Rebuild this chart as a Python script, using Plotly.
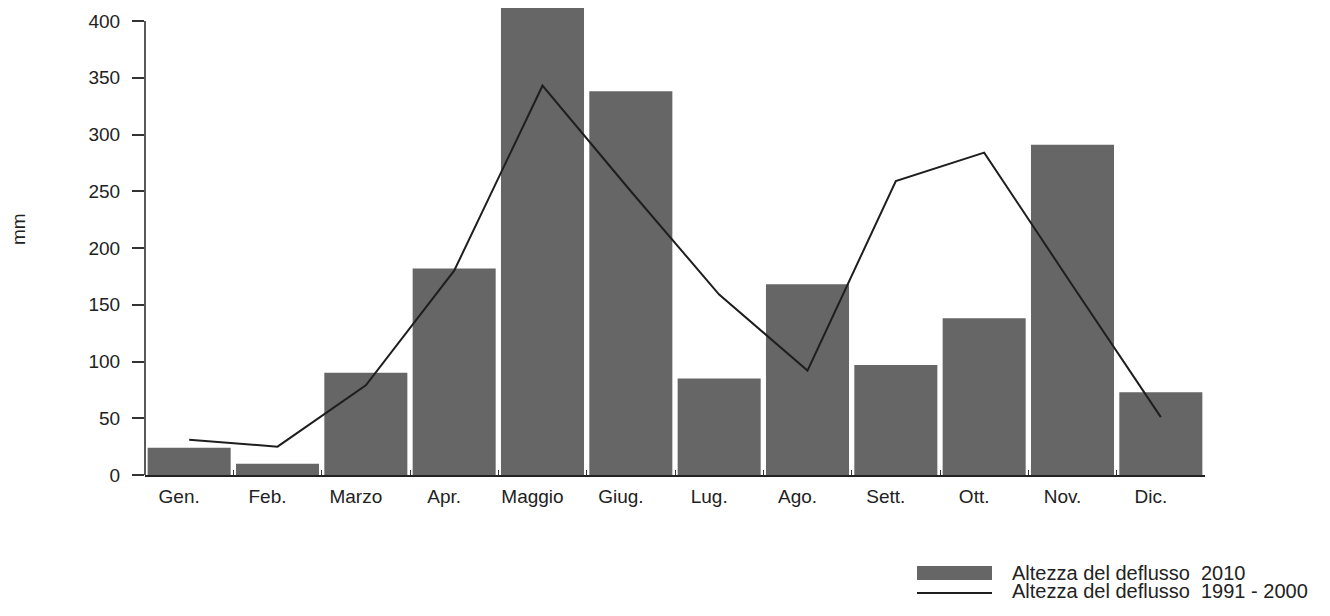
import plotly.graph_objects as go

months = ["Gen.", "Feb.", "Marzo", "Apr.", "Maggio", "Giug.", "Lug.", "Ago.", "Sett.", "Ott.", "Nov.", "Dic."]
runoff_2010 = [24, 10, 90, 182, 430, 338, 85, 168, 97, 138, 291, 73]
runoff_1991_2000 = [31, 25, 79, 180, 343, 250, 159, 92, 259, 284, 167, 51]
y_ticks = [0, 50, 100, 150, 200, 250, 300, 350, 400]
legend_labels = ["Altezza del deflusso\u00a0 2010", "Altezza del deflusso\u00a0 1991 - 2000"]

# page offset of the figure inside the browser window (body margin)
OFF = 8
W, H = 1330, 616
# target screen coordinates of the plot area
SX0, SX1, SY0, SY1 = 145, 1205, OFF, 475
L = SX0 - OFF
R = W - (SX1 - OFF)
T = 0
B = H - (SY1 - OFF)
pw, ph = W - L - R, H - T - B
ymax = (SY1 - SY0) / 1.135

def px(x):
    return (x - SX0) / pw

def py(y):
    return (SY1 - y) / ph

fig = go.Figure()
fig.add_trace(go.Bar(x=months, y=runoff_2010, marker=dict(color="#666666", line=dict(width=0)),
                     name=legend_labels[0], showlegend=False))
fig.add_trace(go.Scatter(x=months, y=runoff_1991_2000, mode="lines",
                         line=dict(color="#1e1e1e", width=2), name=legend_labels[1], showlegend=False))

font = dict(family="Liberation Sans, Arial, sans-serif", size=19, color="#222222")
lfont = dict(family="Liberation Sans, Arial, sans-serif", size=20, color="#222222")

fig.update_layout(
    width=W, height=H,
    margin=dict(l=L, r=R, t=T, b=B),
    paper_bgcolor="white", plot_bgcolor="white",
    bargap=0.06,
    font=font,
    xaxis=dict(type="category", range=[-0.5, 11.5], showline=True, linecolor="#222222", linewidth=2,
               ticks="inside", tickson="boundaries", ticklen=5, tickcolor="#333333", tickwidth=1,
               showgrid=False, zeroline=False, ticklabelshift=-10, ticklabelstandoff=3,
               tickfont=font),
    yaxis=dict(range=[0, ymax], tickvals=y_ticks, ticks="outside", ticklen=12, tickcolor="#333333",
               tickwidth=1.5, showline=False, showgrid=False, zeroline=False,
               ticklabelstandoff=8, tickfont=font),
)

# y axis line up to the last tick
fig.add_shape(type="line", xref="paper", yref="y", x0=0, x1=0, y0=0, y1=400,
              line=dict(color="#222222", width=1.5))

# y axis title
fig.add_annotation(text="mm", xref="paper", yref="paper", x=px(18), y=py(229),
                   textangle=-90, showarrow=False, font=font, xanchor="center", yanchor="middle")

# manual legend
fig.add_shape(type="rect", xref="paper", yref="paper", x0=px(917), x1=px(992), y0=py(580), y1=py(566),
              fillcolor="#666666", line=dict(width=0))
fig.add_shape(type="line", xref="paper", yref="paper", x0=px(917), x1=px(992), y0=py(593), y1=py(593),
              line=dict(color="#1e1e1e", width=2))
fig.add_annotation(text=legend_labels[0], xref="paper", yref="paper", x=px(1010), y=py(573),
                   showarrow=False, font=lfont, xanchor="left", yanchor="middle")
fig.add_annotation(text=legend_labels[1], xref="paper", yref="paper", x=px(1010), y=py(591),
                   showarrow=False, font=lfont, xanchor="left", yanchor="middle")

fig.write_html("out.html")
